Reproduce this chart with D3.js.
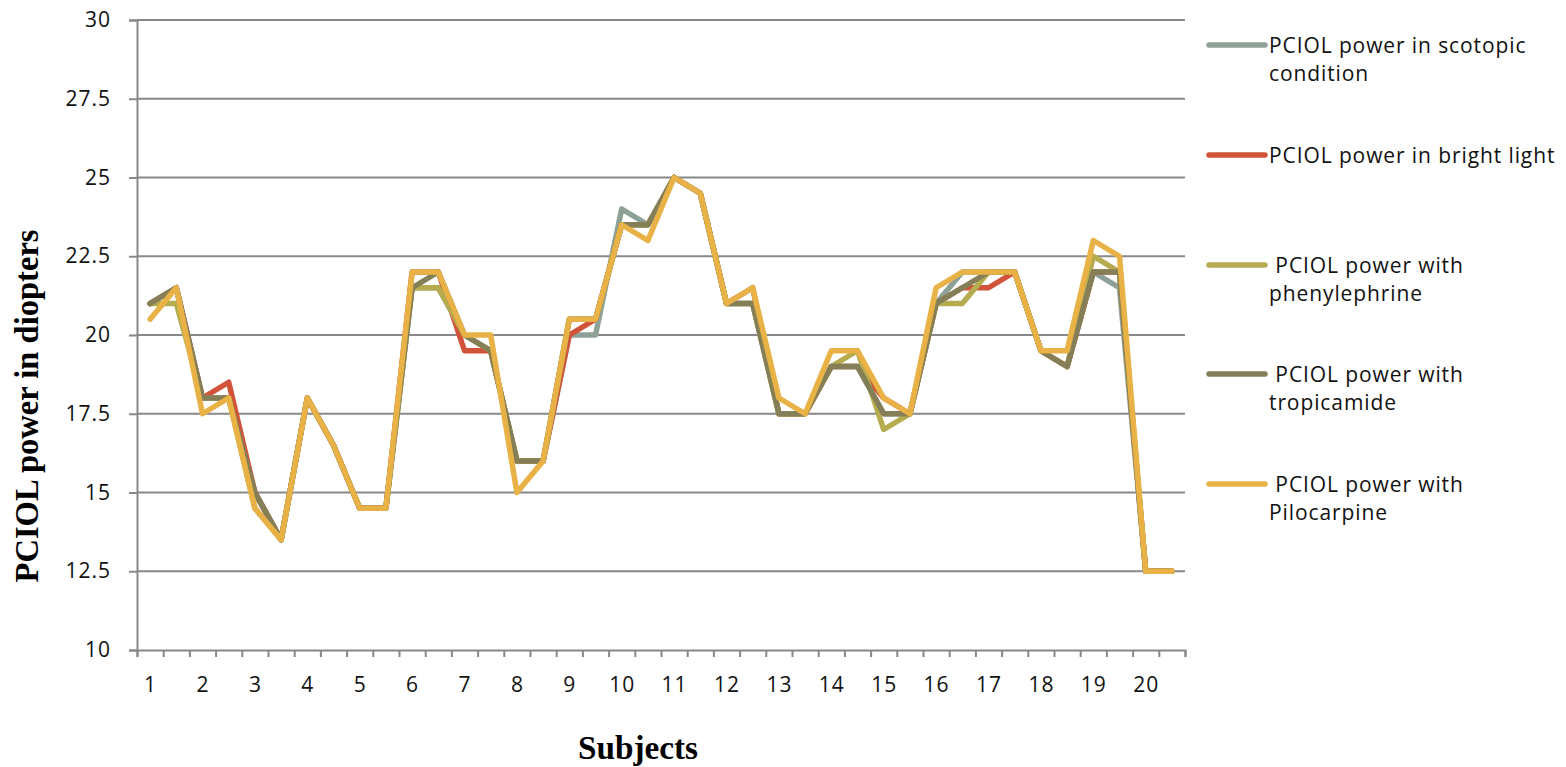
<!DOCTYPE html>
<html>
<head>
<meta charset="utf-8">
<script src="https://cdn.jsdelivr.net/npm/d3@7"></script>
<style>
  html, body { margin: 0; padding: 0; background: #fff; }
  svg { display: block; }
</style>
</head>
<body>
<svg id="chart" width="1566" height="767"></svg>
<script>
// ---- data ----
const xLabels = ["1","","2","","3","","4","","5","","6","","7","","8","","9","","10","",
                 "11","","12","","13","","14","","15","","16","","17","","18","","19","","20",""];
const yTicks = [10, 12.5, 15, 17.5, 20, 22.5, 25, 27.5, 30];

const seriesNames = [
  ["PCIOL power in scotopic", "condition"],
  ["PCIOL power in bright light"],
  [" PCIOL power with", "phenylephrine"],
  [" PCIOL power with", "tropicamide"],
  [" PCIOL power with", "Pilocarpine"]
];
const seriesColors = ["#8DA197", "#D1533A", "#B4AC4F", "#857F57", "#E9B246"];

const scotopic = [21,21.5,18,18,15,13.5,18,16.5,14.5,14.5,21.5,21.5,20,19.5,16,16,20,20,24,23.5,
                  25,24.5,21,21,17.5,17.5,19,19,17.5,17.5,21,22,22,22,19.5,19,22,21.5,12.5,12.5];
const brightLight = [21,21.5,18,18.5,15,13.5,18,16.5,14.5,14.5,22,22,19.5,19.5,16,16,20,20.5,23.5,23.5,
                  25,24.5,21,21.5,17.5,17.5,19,19,18,17.5,21,21.5,21.5,22,19.5,19,22,22,12.5,12.5];
const phenylephrine = [21,21,18,18,14.5,13.5,18,16.5,14.5,14.5,21.5,21.5,20,19.5,16,16,20.5,20.5,23.5,23.5,
                  25,24.5,21,21,17.5,17.5,19,19.5,17,17.5,21,21,22,22,19.5,19,22.5,22,12.5,12.5];
const tropicamide = [21,21.5,18,18,15,13.5,18,16.5,14.5,14.5,21.5,22,20,19.5,16,16,20.5,20.5,23.5,23.5,
                  25,24.5,21,21,17.5,17.5,19,19,17.5,17.5,21,21.5,22,22,19.5,19,22,22,12.5,12.5];
const pilocarpine = [20.5,21.5,17.5,18,14.5,13.5,18,16.5,14.5,14.5,22,22,20,20,15,16,20.5,20.5,23.5,23,
                  25,24.5,21,21.5,18,17.5,19.5,19.5,18,17.5,21.5,22,22,22,19.5,19.5,23,22.5,12.5,12.5];
const allSeries = [scotopic, brightLight, phenylephrine, tropicamide, pilocarpine];

// ---- layout ----
const svg = d3.select("#chart");
const plotL = 137, plotR = 1185, plotT = 20, plotB = 650;
const idx = d3.range(xLabels.length);

const x = d3.scalePoint().domain(idx).range([plotL, plotR]).padding(0.5);
const xEdge = d3.scaleLinear().domain([0, xLabels.length]).range([plotL, plotR]);
const y = d3.scaleLinear().domain([10, 30]).range([plotB, plotT]);

const gridColor = "#888888";
const tickFont = "'Open Sans', sans-serif";
const titleFont = "'Liberation Serif', serif";

// gridlines
svg.append("g")
  .selectAll("line")
  .data(yTicks.filter(d => d !== 10))
  .join("line")
  .attr("x1", plotL).attr("x2", plotR)
  .attr("y1", d => y(d)).attr("y2", d => y(d))
  .attr("stroke", gridColor).attr("stroke-width", 2);

// y axis
const yAxis = svg.append("g")
  .attr("transform", `translate(${plotL},0)`)
  .call(d3.axisLeft(y).tickValues(yTicks).tickSize(8).tickPadding(18).tickFormat(d => String(d)));
yAxis.select(".domain").attr("stroke", gridColor).attr("stroke-width", 2);
yAxis.selectAll(".tick line").attr("stroke", gridColor).attr("stroke-width", 2);
yAxis.selectAll("text").attr("font-family", tickFont).attr("font-size", 21)
  .attr("letter-spacing", 1).attr("fill", "#111");

// x axis: tick marks at category boundaries
const xTicks = svg.append("g")
  .attr("transform", `translate(0,${plotB})`)
  .call(d3.axisBottom(xEdge).tickValues(d3.range(xLabels.length + 1)).tickSize(7).tickFormat(""));
xTicks.select(".domain").attr("stroke", gridColor).attr("stroke-width", 2);
xTicks.selectAll(".tick line").attr("stroke", gridColor).attr("stroke-width", 2);

// x axis labels
const xLab = svg.append("g")
  .attr("transform", `translate(0,${plotB})`)
  .call(d3.axisBottom(x).tickSize(0).tickPadding(27).tickFormat(i => xLabels[i]));
xLab.select(".domain").remove();
xLab.selectAll("text").attr("font-family", tickFont).attr("font-size", 21)
  .attr("letter-spacing", 1).attr("fill", "#111");

// lines
const line = d3.line().x((d, i) => x(i)).y(d => y(d));
svg.append("g")
  .selectAll("path")
  .data(allSeries)
  .join("path")
  .attr("d", d => line(d))
  .attr("fill", "none")
  .attr("stroke", (d, i) => seriesColors[i])
  .attr("stroke-width", 5.5)
  .attr("stroke-linejoin", "round")
  .attr("stroke-linecap", "round");

// axis titles
svg.append("text")
  .attr("transform", `translate(38,406) rotate(-90)`)
  .attr("text-anchor", "middle")
  .attr("font-family", titleFont)
  .attr("font-weight", "bold")
  .attr("font-size", 34)
  .attr("textLength", 353)
  .attr("lengthAdjust", "spacingAndGlyphs")
  .attr("fill", "#000")
  .text("PCIOL power in diopters");

svg.append("text")
  .attr("x", 638).attr("y", 759)
  .attr("text-anchor", "middle")
  .attr("font-family", titleFont)
  .attr("font-weight", "bold")
  .attr("font-size", 34)
  .attr("textLength", 120)
  .attr("lengthAdjust", "spacingAndGlyphs")
  .attr("fill", "#000")
  .text("Subjects");

// legend
const legendY = [45, 155, 265, 374, 484];
const leg = svg.append("g");
seriesNames.forEach((lines, i) => {
  const g = leg.append("g");
  g.append("line")
    .attr("x1", 1209).attr("x2", 1265)
    .attr("y1", legendY[i]).attr("y2", legendY[i])
    .attr("stroke", seriesColors[i]).attr("stroke-width", 5.5)
    .attr("stroke-linecap", "round");
  lines.forEach((t, j) => {
    g.append("text")
      .attr("x", 1269)
      .attr("y", legendY[i] + 7.5 + j * 28)
      .attr("font-family", tickFont)
      .attr("font-size", 21)
      .attr("letter-spacing", 0.9)
      .attr("fill", "#111")
      .style("white-space", "pre")
      .text(t);
  });
});
</script>
</body>
</html>
